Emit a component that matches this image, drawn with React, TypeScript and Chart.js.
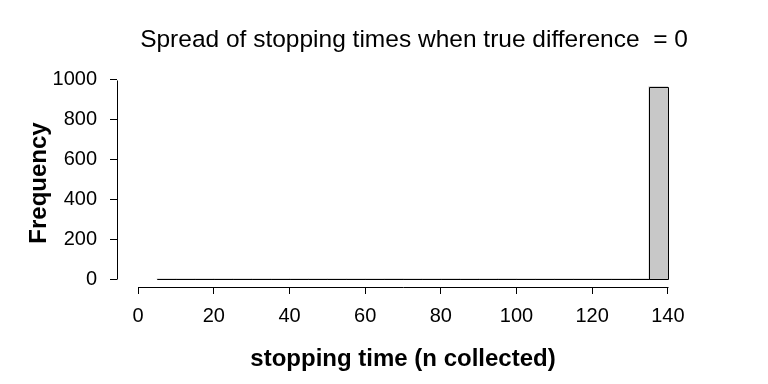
import React, { useEffect, useRef } from "react";
import { Chart, registerables } from "chart.js";

Chart.register(...registerables);

// Histogram bins (left edges, width 5) and their counts
const binLeft = [5, 10, 15, 20, 25, 30, 35, 40, 45, 50, 55, 60, 65, 70, 75, 80, 85, 90, 95, 100, 105, 110, 115, 120, 125, 130, 135];
const binRight = [10, 15, 20, 25, 30, 35, 40, 45, 50, 55, 60, 65, 70, 75, 80, 85, 90, 95, 100, 105, 110, 115, 120, 125, 130, 135, 140];
const counts = [1, 1, 1, 1, 2, 1, 1, 1, 2, 1, 1, 2, 3, 1, 2, 3, 2, 1, 3, 2, 1, 2, 2, 1, 1, 1, 966];

const xTicks = [0, 20, 40, 60, 80, 100, 120, 140];
const yTicks = [0, 200, 400, 600, 800, 1000];

const titleText = "Spread of stopping times when true difference  = 0";
const xTitle = "stopping time (n collected)";
const yTitle = "Frequency";

const FONT = "'Liberation Sans', Arial, Helvetica, sans-serif";

const rPlugin = {
  id: "rStyle",
  afterDatasetsDraw(chart: any) {
    const ctx = chart.ctx;
    const meta = chart.getDatasetMeta(0);
    ctx.save();
    ctx.strokeStyle = "#000";
    ctx.lineWidth = 1;
    meta.data.forEach((el: any) => {
      const p = el.getProps(["x", "y", "base", "width"], true);
      const l = Math.round(p.x - p.width / 2) + 0.5;
      const r = Math.round(p.x + p.width / 2) + 0.5;
      const t = Math.round(p.y) + 0.5;
      const b = Math.round(p.base) + 0.5;
      ctx.beginPath();
      ctx.rect(l, t, r - l, b - t);
      ctx.stroke();
    });
    ctx.restore();
  },
  afterDraw(chart: any) {
    const ctx = chart.ctx;
    const xs = chart.scales.x;
    const ys = chart.scales.y;
    const area = chart.chartArea;
    ctx.save();
    ctx.strokeStyle = "#000";
    ctx.lineWidth = 1;
    // x axis line
    const yb = Math.round(area.bottom) + 0.5;
    ctx.beginPath();
    ctx.moveTo(Math.round(xs.getPixelForValue(xTicks[0])) + 0.5, yb);
    ctx.lineTo(Math.round(xs.getPixelForValue(xTicks[xTicks.length - 1])) + 0.5, yb);
    ctx.stroke();
    // y axis line
    const xl = Math.round(area.left) + 0.5;
    ctx.beginPath();
    ctx.moveTo(xl, Math.round(ys.getPixelForValue(yTicks[0])) + 0.5);
    ctx.lineTo(xl, Math.round(ys.getPixelForValue(yTicks[yTicks.length - 1])) + 0.5);
    ctx.stroke();

    ctx.fillStyle = "#000";
    // title
    ctx.font = `24.5px ${FONT}`;
    ctx.textAlign = "center";
    ctx.textBaseline = "alphabetic";
    ctx.fillText(titleText, 414, 47);
    // x title
    ctx.font = `bold 24px ${FONT}`;
    ctx.fillText(xTitle, (area.left + area.right) / 2, 366);
    // y title
    ctx.translate(46, (area.top + area.bottom) / 2);
    ctx.rotate(-Math.PI / 2);
    ctx.fillText(yTitle, 0, 0);
    ctx.restore();
  },
};

export default function App() {
  const ref = useRef<HTMLCanvasElement>(null);
  useEffect(() => {
    if (!ref.current) return;
    const data = binLeft.map((l, i) => ({ x: (l + binRight[i]) / 2, y: counts[i] }));
    const chart = new Chart(ref.current, {
      type: "bar",
      data: {
        datasets: [
          {
            data: data as any,
            backgroundColor: "#C8C8C8",
            borderWidth: 0,
            barPercentage: 1,
            categoryPercentage: 1,
          },
        ],
      },
      options: {
        animation: false,
        responsive: false,
        maintainAspectRatio: false,
        layout: { padding: { left: 0, right: 79, top: 79, bottom: 0 } },
        plugins: { legend: { display: false }, tooltip: { enabled: false }, title: { display: false } },
        scales: {
          x: {
            type: "linear",
            offset: false,
            min: -5.6,
            max: 145.6,
            afterBuildTicks: (s: any) => {
              s.ticks = xTicks.map((v) => ({ value: v }));
            },
            afterFit: (s: any) => {
              s.height = 97;
            },
            grid: { offset: false, drawOnChartArea: false, drawTicks: true, tickLength: 7, color: "#000", lineWidth: 1 },
            border: { display: false },
            ticks: {
              color: "#000",
              font: { family: FONT, size: 20 },
              padding: 10,
              maxRotation: 0,
              autoSkip: false,
              callback: (v: any) => String(v),
            },
          },
          y: {
            type: "linear",
            min: -38.6,
            max: 1004.6,
            afterBuildTicks: (s: any) => {
              s.ticks = yTicks.map((v) => ({ value: v }));
            },
            afterFit: (s: any) => {
              s.width = 117;
            },
            grid: { drawOnChartArea: false, drawTicks: true, tickLength: 7, color: "#000", lineWidth: 1 },
            border: { display: false },
            ticks: {
              color: "#000",
              font: { family: FONT, size: 20 },
              padding: 13,
              autoSkip: false,
              callback: (v: any) => String(v),
            },
          },
        },
      },
      plugins: [rPlugin],
    });
    return () => chart.destroy();
  }, []);
  return (
    <div style={{ position: "absolute", left: 0, top: 0, width: 768, height: 384, background: "#fff" }}>
      <canvas ref={ref} width={768} height={384} />
    </div>
  );
}
